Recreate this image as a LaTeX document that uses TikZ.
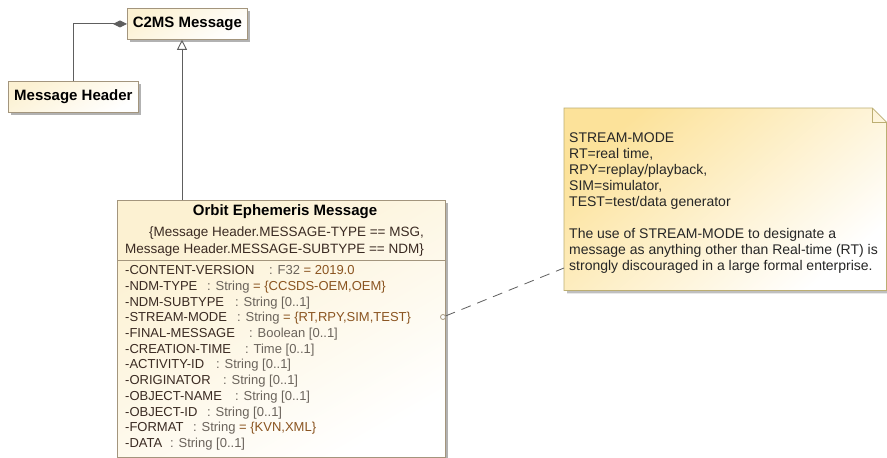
\documentclass[tikz,border=0pt]{standalone}
\usepackage{fontspec}
\setmainfont{Liberation Sans}
\usetikzlibrary{shadows,arrows.meta,calc}
\definecolor{bordr}{HTML}{A3957D}
\definecolor{cream}{HTML}{FCF1D2}
\definecolor{notey}{HTML}{FCE29A}
\definecolor{noteb}{HTML}{BCAE72}
\definecolor{nmc}{HTML}{3A2A22}
\definecolor{tyc}{HTML}{6B645C}
\definecolor{dvc}{HTML}{8A5420}
\definecolor{linec}{HTML}{5E5E5E}
\begin{document}
\begin{tikzpicture}[x=1pt,y=-1pt,
  font=\fontsize{13}{15.7}\selectfont,
  classbox/.style={draw=bordr, line width=0.8pt, top color=cream, bottom color=white, shading angle=30,
    drop shadow={shadow xshift=3pt,shadow yshift=-3pt,fill=black,opacity=.3}, inner sep=0pt, anchor=north west},
  bold/.style={font=\fontsize{15}{18}\selectfont\bfseries},
  nm/.style={anchor=base west, text=nmc, inner sep=0pt},
  ty/.style={anchor=base west, text=tyc, inner sep=0pt},
  cst/.style={anchor=base east, inner sep=0pt, text=nmc, font=\fontsize{13.5}{16}\selectfont},
  conn/.style={draw=linec, line width=0.9pt}]
\useasboundingbox (0,0) rectangle (887,458);
\fill[white] (0,0) rectangle (887,458);
% classes
\node[classbox, bold, minimum width=120pt, minimum height=31pt] (c2ms) at (127,8) {C2MS Message};
\node[classbox, bold, minimum width=130pt, minimum height=31pt] (mh) at (8,81) {Message Header};
\node[classbox, minimum width=328pt, minimum height=257pt] (oem) at (117,200) {};
\draw[draw=bordr, line width=0.8pt] ($(oem.north west)+(0,60)$) coordinate (sepl) -- (sepl -| oem.east);
\node[bold, text=black] (oemt) at (285,212) {Orbit Ephemeris Message};
\node[cst] (cs1) at (424,236) {\{Message Header.MESSAGE-TYPE == MSG,};
\node[cst] (cs2) at (424,253) {Message Header.MESSAGE-SUBTYPE == NDM\}};
\foreach \i/\nmt/\tx/\tyt in {
  1/{-CONTENT-VERSION}/269/{F32 \textcolor{dvc}{= 2019.0}},
  2/{-NDM-TYPE}/207/{String \textcolor{dvc}{= \{CCSDS-OEM,OEM\}}},
  3/{-NDM-SUBTYPE}/235/{String [0..1]},
  4/{-STREAM-MODE}/237/{String \textcolor{dvc}{= \{RT,RPY,SIM,TEST\}}},
  5/{-FINAL-MESSAGE}/249/{Boolean [0..1]},
  6/{-CREATION-TIME}/245/{Time [0..1]},
  7/{-ACTIVITY-ID}/216/{String [0..1]},
  8/{-ORIGINATOR}/223/{String [0..1]},
  9/{-OBJECT-NAME}/235/{String [0..1]},
  10/{-OBJECT-ID}/207/{String [0..1]},
  11/{-FORMAT}/193/{String \textcolor{dvc}{= \{KVN,XML\}}},
  12/{-DATA}/170/{String [0..1]}}{
  \node[nm] (an\i) at (125,{274.7+15.7*(\i-1)}) {\nmt};
  \node[ty] (at\i) at (\tx,{274.7+15.7*(\i-1)}) {: \tyt};
}
% connectors
\draw[conn, -{Diamond[length=14pt,width=7pt,fill=linec]}] (mh.north) |- (c2ms.west);
\draw[conn, -{Triangle[open,length=10pt,width=10pt,fill=white]}] ($(oem.north west)+(65,0)$) coordinate (g1) -- (g1 |- c2ms.south);
% note
\node[anchor=north west, minimum width=322pt, minimum height=182pt, inner sep=0pt] (note) at (564,108) {};
\fill[black, opacity=.25] ($(note.north west)+(3,3)$) -- ($(note.north east)+(-11,3)$) -- ($(note.north east)+(3,17)$) -- ($(note.south east)+(3,3)$) -- ($(note.south west)+(3,3)$) -- cycle;
\path[draw=noteb, line width=0.8pt, top color=notey, bottom color=white, shading angle=40] (note.north west) -- ($(note.north east)+(-14,0)$) -- ($(note.north east)+(0,14)$) -- (note.south east) -- (note.south west) -- cycle;
\draw[draw=noteb, line width=0.8pt] ($(note.north east)+(-14,0)$) -- ($(note.north east)+(-14,14)$) -- ($(note.north east)+(0,14)$);
\node[anchor=north west, align=left, inner sep=0pt, font=\fontsize{14}{16}\selectfont, text=black!85] (notet) at (569,133) {STREAM-MODE\\RT=real time,\\RPY=replay/playback,\\SIM=simulator,\\TEST=test/data generator\\[16pt]The use of STREAM-MODE to designate a\\message as anything other than Real-time (RT) is\\strongly discouraged in a large formal enterprise.};
\node[circle, draw=bordr, line width=0.8pt, fill=white, inner sep=0pt, minimum size=5pt] (sm) at (443,317) {};
\coordinate (na) at ($(note.north west)+(0,160)$);
\draw[conn, line width=0.8pt, dash pattern=on 10pt off 7pt] (sm) -- (na);
\end{tikzpicture}
\end{document}
